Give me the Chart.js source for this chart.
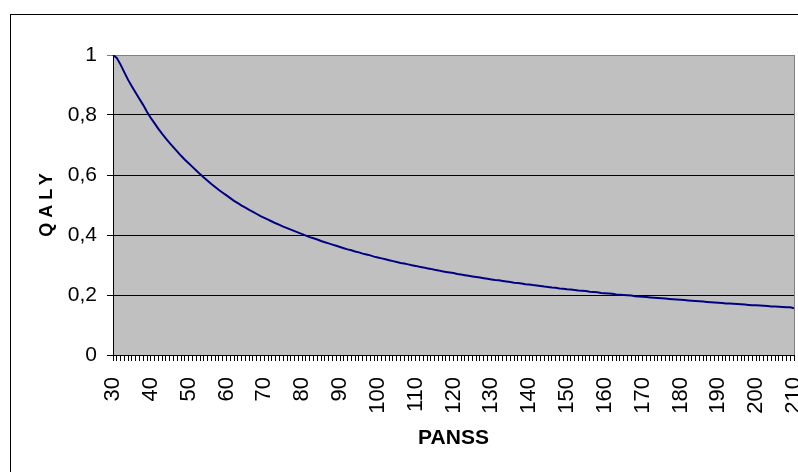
<!DOCTYPE html>
<html>
<head>
<meta charset="utf-8">
<title>QALY vs PANSS</title>
<script src="https://cdn.jsdelivr.net/npm/chart.js@4/dist/chart.umd.min.js"></script>
<style>
  html, body { margin: 0; padding: 0; background: #ffffff; }
  #wrap { width: 798px; height: 472px; position: relative; overflow: hidden; }
  canvas { display: block; }
</style>
</head>
<body>
<div id="wrap"><canvas id="chart" width="798" height="472"></canvas></div>
<script>
// PANSS score categories (one per integer score)
const panss = [
  30, 31, 32, 33, 34, 35, 36, 37, 38, 39,
  40, 41, 42, 43, 44, 45, 46, 47, 48, 49,
  50, 51, 52, 53, 54, 55, 56, 57, 58, 59,
  60, 61, 62, 63, 64, 65, 66, 67, 68, 69,
  70, 71, 72, 73, 74, 75, 76, 77, 78, 79,
  80, 81, 82, 83, 84, 85, 86, 87, 88, 89,
  90, 91, 92, 93, 94, 95, 96, 97, 98, 99,
  100, 101, 102, 103, 104, 105, 106, 107, 108, 109,
  110, 111, 112, 113, 114, 115, 116, 117, 118, 119,
  120, 121, 122, 123, 124, 125, 126, 127, 128, 129,
  130, 131, 132, 133, 134, 135, 136, 137, 138, 139,
  140, 141, 142, 143, 144, 145, 146, 147, 148, 149,
  150, 151, 152, 153, 154, 155, 156, 157, 158, 159,
  160, 161, 162, 163, 164, 165, 166, 167, 168, 169,
  170, 171, 172, 173, 174, 175, 176, 177, 178, 179,
  180, 181, 182, 183, 184, 185, 186, 187, 188, 189,
  190, 191, 192, 193, 194, 195, 196, 197, 198, 199,
  200, 201, 202, 203, 204, 205, 206, 207, 208, 209,
  210
];

// QALY value for each PANSS score
const qaly = [
  1.000, 0.990, 0.968, 0.942, 0.917, 0.895, 0.874, 0.853, 0.833, 0.810,
  0.790, 0.772, 0.754, 0.737, 0.721, 0.706, 0.692, 0.678, 0.664, 0.651,
  0.639, 0.627, 0.615, 0.603, 0.592, 0.581, 0.570, 0.560, 0.550, 0.541,
  0.532, 0.523, 0.514, 0.506, 0.498, 0.491, 0.484, 0.477, 0.470, 0.463,
  0.457, 0.451, 0.445, 0.439, 0.434, 0.428, 0.423, 0.418, 0.413, 0.408,
  0.403, 0.398, 0.393, 0.389, 0.385, 0.380, 0.376, 0.372, 0.368, 0.364,
  0.360, 0.356, 0.352, 0.349, 0.345, 0.342, 0.338, 0.335, 0.332, 0.328,
  0.325, 0.322, 0.319, 0.316, 0.313, 0.310, 0.307, 0.305, 0.302, 0.299,
  0.297, 0.294, 0.292, 0.289, 0.287, 0.284, 0.282, 0.279, 0.277, 0.275,
  0.273, 0.270, 0.268, 0.266, 0.264, 0.262, 0.260, 0.258, 0.256, 0.254,
  0.252, 0.250, 0.249, 0.247, 0.245, 0.243, 0.241, 0.240, 0.238, 0.236,
  0.235, 0.233, 0.232, 0.230, 0.228, 0.227, 0.225, 0.224, 0.222, 0.221,
  0.219, 0.218, 0.217, 0.215, 0.214, 0.213, 0.211, 0.210, 0.209, 0.207,
  0.206, 0.205, 0.204, 0.202, 0.201, 0.200, 0.199, 0.198, 0.196, 0.195,
  0.194, 0.193, 0.192, 0.191, 0.190, 0.189, 0.188, 0.187, 0.186, 0.185,
  0.184, 0.183, 0.182, 0.181, 0.180, 0.179, 0.178, 0.177, 0.176, 0.175,
  0.174, 0.173, 0.172, 0.172, 0.171, 0.170, 0.169, 0.168, 0.167, 0.166,
  0.166, 0.165, 0.164, 0.163, 0.162, 0.162, 0.161, 0.160, 0.159, 0.159,
  0.156
];

// Labelled PANSS ticks
const panssTickLabels = [30, 40, 50, 60, 70, 80, 90, 100, 110, 120, 130, 140, 150, 160, 170, 180, 190, 200, 210];

// QALY tick labels, bottom to top (0 .. 1 in steps of 0.2)
const qalyTickLabels = ['0', '0,2', '0,4', '0,6', '0,8', '1'];

const FONT = "'Liberation Sans', Arial, Helvetica, sans-serif";

// Grey plot area, its border, the outer chart frame and the vertical axis title
const frame = {
  id: 'frame',
  beforeDraw(chart) {
    const { ctx, chartArea: a } = chart;
    ctx.save();
    ctx.fillStyle = '#ffffff';
    ctx.fillRect(0, 0, chart.width, chart.height);
    ctx.strokeStyle = '#000000';
    ctx.lineWidth = 1;
    ctx.strokeRect(10.5, 14.5, 1200, 1200);
    ctx.fillStyle = '#c0c0c0';
    ctx.fillRect(a.left, a.top, a.right - a.left, a.bottom - a.top);
    ctx.strokeStyle = '#808080';
    ctx.strokeRect(a.left + 0.5, a.top + 0.5, a.right - a.left, a.bottom - a.top);
    ctx.restore();
  },
  afterDraw(chart) {
    const { ctx, chartArea: a } = chart;
    ctx.save();
    ctx.font = "bold 18px " + FONT;
    ctx.fillStyle = '#000000';
    if ('letterSpacing' in ctx) ctx.letterSpacing = '5px';
    ctx.textAlign = 'center';
    ctx.textBaseline = 'middle';
    ctx.translate(47, (a.top + a.bottom) / 2);
    ctx.rotate(-Math.PI / 2);
    ctx.fillText('QALY', 2.5, 0);
    ctx.restore();
  }
};

new Chart(document.getElementById('chart'), {
  type: 'line',
  data: {
    labels: panss,
    datasets: [{
      label: 'QALY',
      data: qaly,
      borderColor: '#000080',
      borderWidth: 2,
      pointRadius: 0,
      pointHoverRadius: 0,
      tension: 0,
      fill: false
    }]
  },
  options: {
    responsive: false,
    animation: false,
    devicePixelRatio: 1,
    layout: { padding: { left: 12, top: 55, right: 4, bottom: 0 } },
    plugins: {
      legend: { display: false },
      tooltip: { enabled: false },
      title: { display: false }
    },
    scales: {
      x: {
        type: 'category',
        offset: false,
        afterFit(scale) {
          scale.height = 117;
          scale.paddingLeft = 0;
          scale.paddingRight = 0;
        },
        border: { display: true, color: '#000000', width: 1 },
        grid: {
          drawOnChartArea: false,
          drawTicks: true,
          tickLength: 6,
          color: '#000000',
          offset: false
        },
        ticks: {
          autoSkip: false,
          maxRotation: 90,
          minRotation: 90,
          padding: 16,
          color: '#000000',
          font: { family: FONT, size: 22 },
          callback(value, index) {
            const c = panss[index];
            return panssTickLabels.includes(c) ? String(c) : '';
          }
        },
        title: {
          display: true,
          text: 'PANSS',
          color: '#000000',
          font: { family: FONT, size: 21, weight: 'bold' },
          padding: { top: 0, bottom: 21 }
        }
      },
      y: {
        min: 0,
        max: 1,
        afterFit(scale) {
          scale.width = 101;
        },
        border: { display: true, color: '#000000', width: 1 },
        grid: {
          drawTicks: true,
          tickLength: 6,
          color(ctx) {
            return ctx.tick && ctx.tick.value === 1 ? '#808080' : '#000000';
          }
        },
        ticks: {
          stepSize: 0.2,
          padding: 10,
          color: '#000000',
          font: { family: FONT, size: 21 },
          callback(value) {
            return qalyTickLabels[Math.round(value / 0.2)];
          }
        }
      }
    }
  },
  plugins: [frame]
});
</script>
</body>
</html>
